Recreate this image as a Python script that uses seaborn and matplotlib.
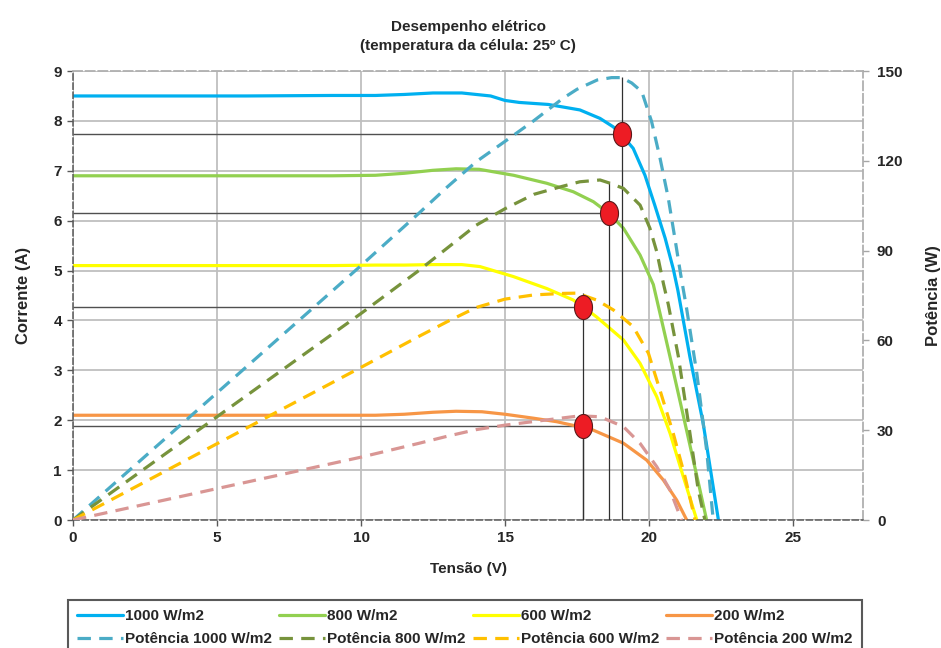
import numpy as np
import seaborn as sns
import matplotlib.pyplot as plt
from matplotlib.path import Path

# curvas I-V (tensão em V, corrente em A)
v_1000 = [0, 3, 6, 9, 10.5, 11.5, 12.5, 13.5, 14.5, 15.0, 15.5, 16.5, 17.6, 18.3, 18.76, 19.05,
          19.45, 19.86, 20.2, 20.56, 20.84, 21.0, 21.42, 21.88, 22.41]
i_1000 = [8.50, 8.50, 8.50, 8.51, 8.51, 8.53, 8.56, 8.56, 8.50, 8.41, 8.37, 8.33, 8.22, 8.05, 7.88, 7.72,
          7.45, 6.91, 6.31, 5.65, 5.04, 4.61, 3.27, 1.94, 0.0]

v_800 = [0, 3, 6, 9, 10.5, 11.5, 12.5, 13.3, 14.1, 15.3, 16.45, 17.37, 18.07, 18.6, 19.11, 19.69,
         20.15, 20.73, 21.25, 21.77, 22.0]
i_800 = [6.90, 6.90, 6.90, 6.90, 6.91, 6.95, 7.01, 7.04, 7.03, 6.91, 6.75, 6.58, 6.38, 6.15, 5.85, 5.31,
         4.72, 3.27, 1.94, 0.60, 0.0]

v_600 = [0, 3, 6, 9, 10.5, 11.5, 12.5, 13.5, 14.13, 15.29, 16.45, 17.37, 17.72, 18.18, 19.11, 19.69,
         20.27, 20.73, 21.19, 21.66]
i_600 = [5.10, 5.10, 5.10, 5.10, 5.11, 5.11, 5.12, 5.12, 5.08, 4.88, 4.64, 4.41, 4.27, 4.07, 3.61, 3.14,
         2.47, 1.74, 0.87, 0.0]

v_200 = [0, 3, 6, 9, 10.5, 11.5, 12.5, 13.3, 14.2, 15.0, 16.0, 16.8, 17.5, 17.95, 19.11, 19.92,
         20.5, 20.96, 21.31]
i_200 = [2.10, 2.10, 2.10, 2.10, 2.10, 2.12, 2.16, 2.18, 2.17, 2.12, 2.04, 1.97, 1.88, 1.83, 1.54, 1.20,
         0.80, 0.40, 0.0]

# curvas de potência (W)
vp_1000 = [0, 2, 4, 6, 8, 10, 12, 13, 14, 15, 16, 17, 17.5, 18.2, 18.7, 19.05, 19.4, 19.75,
           20.09, 20.38, 20.67, 20.9, 21.1, 21.3, 21.66, 22.0, 22.23]
p_1000 = [0, 17, 34, 51, 68, 85, 102.4, 111.3, 119.7, 126.5, 133.4, 140.8, 143.9, 147.0, 147.8, 147.8,
          146.0, 143.1, 133.1, 121.0, 107.5, 94.0, 82.0, 71.0, 49.0, 23.4, 0]

vp_800 = [0, 2, 4, 6, 8, 10, 12, 14, 15, 16, 17, 17.6, 18.3, 18.65, 19.11, 19.69, 20.03, 20.27,
          20.5, 20.67, 21.02, 21.37, 21.71, 21.94]
p_800 = [0, 13.8, 27.6, 41.4, 55.2, 69.0, 83.3, 98.5, 104.0, 108.8, 111.5, 113.0, 113.6, 112.5, 110.8,
         105.2, 97.5, 89.6, 79.0, 72.0, 54.6, 32.3, 10.0, 0]

vp_600 = [0, 2, 4, 6, 8, 10, 12, 13, 14, 15, 16, 17, 17.5, 18.18, 18.76, 19.45, 19.98, 20.38,
          20.84, 21.25, 21.6]
p_600 = [0, 10.2, 20.4, 30.6, 40.8, 51.0, 61.3, 66.3, 71.0, 73.8, 75.2, 75.7, 75.8, 73.5, 70.2, 64.6,
         55.7, 43.4, 29.0, 14.5, 0]

vp_200 = [0, 2, 4, 6, 8, 10, 12, 13, 14, 15, 16, 17, 17.6, 18.3, 19.11, 19.69, 20.27, 20.73, 21.13]
p_200 = [0, 4.2, 8.4, 12.6, 16.8, 21.0, 25.6, 28.0, 30.2, 31.7, 32.9, 34.1, 34.8, 34.5, 31.2, 25.6,
         17.8, 10.0, 0]

# pontos de máxima potência
mpp_v = [19.06, 18.61, 17.71, 17.71]
mpp_i = [7.73, 6.16, 4.27, 1.88]
mpp_p = [148.0, 113.0, 75.8, 35.0]

labels_i = ['1000 W/m2', '800 W/m2', '600 W/m2', '200 W/m2']
labels_p = ['Potência 1000 W/m2', 'Potência 800 W/m2', 'Potência 600 W/m2', 'Potência 200 W/m2']
cores_i = ['#00B0F0', '#92D050', '#FFFF00', '#F79646']
cores_p = ['#4BACC6', '#77933C', '#FFC000', '#D99694']

sns.set_style('ticks')
fonte = ['Liberation Sans', 'DejaVu Sans']
plt.rcParams['font.family'] = fonte
plt.rcParams['font.weight'] = 'bold'
fs = 11

fig = plt.figure(figsize=(9.41, 6.48), dpi=100)
ax = fig.add_axes([0.0776, 0.1975, 0.8395, 0.6929])
ax2 = ax.twinx()

curvas_i = [(v_1000, i_1000), (v_800, i_800), (v_600, i_600), (v_200, i_200)]
curvas_p = [(vp_1000, p_1000), (vp_800, p_800), (vp_600, p_600), (vp_200, p_200)]

for (v, i), lab, cor in zip(curvas_i, labels_i, cores_i):
    sns.lineplot(x=v, y=i, ax=ax, color=cor, lw=2.3, label=lab, legend=False,
                 estimator=None, sort=False)

for (v, p), lab, cor in zip(curvas_p, labels_p, cores_p):
    sns.lineplot(x=v, y=p, ax=ax2, color=cor, lw=2.3, label=lab, legend=False,
                 estimator=None, sort=False, linestyle=(0, (4.2, 2.6)))

# linhas de referência do ponto de máxima potência
ax.hlines(mpp_i, 0, mpp_v, colors='#505050', lw=1.0, zorder=1.5)
ax2.vlines(mpp_v, 0, mpp_p, colors='#303030', lw=0.9, zorder=1.5)

# marcadores elípticos vermelhos
t = np.linspace(0, 2 * np.pi, 60)
elipse = Path(np.column_stack([0.75 * np.cos(t), np.sin(t)]), closed=True)
ax2.scatter(mpp_v, mpp_i, transform=ax.transData, marker=elipse, s=300,
            c='#ED1C24', edgecolors='#5A1A1A', linewidths=0.8, zorder=6)

ax.set_xlim(0, 27.43)
ax.set_ylim(0, 9)
ax.set_xticks(range(0, 26, 5))
ax.set_yticks(range(0, 10))
ax2.set_ylim(0, 150)
ax2.set_yticks(range(0, 151, 30))

ax.grid(True, color='#BFBFBF', lw=1.3)
ax.set_axisbelow(True)
ax2.grid(False)

ax.tick_params(axis='both', direction='out', length=4, width=1, color='#595959',
               labelsize=fs, pad=4)
ax2.tick_params(axis='y', direction='out', length=4, width=1, color='#A6A6A6',
                labelsize=fs, pad=6)

for s in ['left', 'bottom']:
    ax.spines[s].set_linestyle((0, (4, 2)))
    ax.spines[s].set_color('#595959')
    ax.spines[s].set_linewidth(1.1)
for s in ['top', 'right']:
    ax.spines[s].set_linestyle((0, (5, 2)))
    ax.spines[s].set_color('#B0B0B0')
    ax.spines[s].set_linewidth(1.3)
for s in ax2.spines.values():
    s.set_visible(False)

ax.set_title('Desempenho elétrico\n(temperatura da célula: 25º C)', fontsize=fs,
             fontweight='bold', pad=15, linespacing=1.5)
ax.set_xlabel('Tensão (V)', fontsize=fs, fontweight='bold', labelpad=12)
ax.set_ylabel('Corrente (A)', fontsize=12, fontweight='bold', labelpad=16)
ax2.set_ylabel('Potência (W)', fontsize=12, fontweight='bold', labelpad=17)

h1, l1 = ax.get_legend_handles_labels()
h2, l2 = ax2.get_legend_handles_labels()
handles, labels = [], []
for a, b, c, d in zip(h1, l1, h2, l2):
    handles += [a, c]
    labels += [b, d]

leg = fig.legend(handles, labels, ncol=4, loc='upper left',
                 bbox_to_anchor=(0.0723, -0.05, 0.8438, 0.1241), mode='expand',
                 borderaxespad=0, frameon=True, fancybox=False, framealpha=1,
                 edgecolor='#595959', handlelength=3.0, handletextpad=0.15,
                 labelspacing=0.6, borderpad=0.6,
                 prop={'family': fonte, 'weight': 'bold', 'size': fs})
leg.get_frame().set_linewidth(1.5)

fig.savefig('out.png', dpi=100)
